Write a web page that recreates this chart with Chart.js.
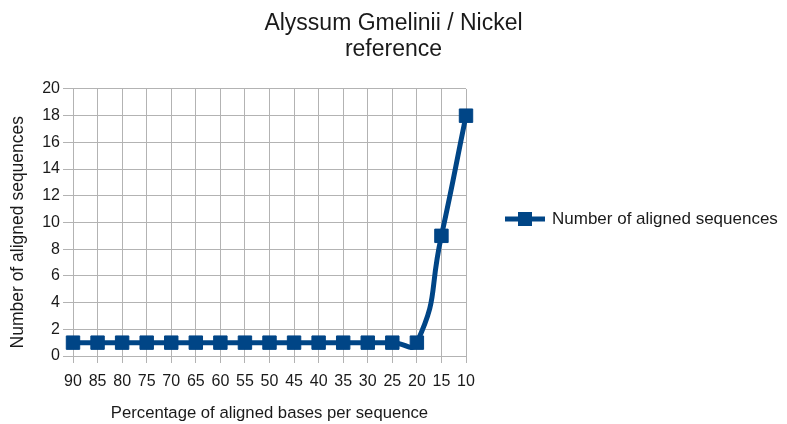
<!DOCTYPE html>
<html>
<head>
<meta charset="utf-8">
<title>Alyssum Gmelinii / Nickel reference</title>
<script src="https://cdn.jsdelivr.net/npm/chart.js@4/dist/chart.umd.min.js"></script>
<style>
  html, body { margin: 0; padding: 0; background: #ffffff; }
  #wrap { width: 787px; height: 424px; }
</style>
</head>
<body>
<div id="wrap"><canvas id="chart" width="787" height="424"></canvas></div>
<script>
// Percentage of aligned bases per sequence (x categories)
const categories = ['90', '85', '80', '75', '70', '65', '60', '55', '50', '45', '40', '35', '30', '25', '20', '15', '10'];
// Number of aligned sequences at each threshold
const alignedSequences = [1, 1, 1, 1, 1, 1, 1, 1, 1, 1, 1, 1, 1, 1, 1, 9, 18];
// Y axis ticks
const yMin = 0;
const yMax = 20;
const yStep = 2;

const SERIES_COLOR = '#004586';
const GRID_COLOR = '#b3b3b3';
const TEXT_COLOR = '#1a1a1a';
const FONT = '"Liberation Sans", Arial, sans-serif';

// Legend symbol: line segment with a square marker in the middle
const legendSymbol = document.createElement('canvas');
legendSymbol.width = 40;
legendSymbol.height = 16;
(function () {
  const c = legendSymbol.getContext('2d');
  c.fillStyle = SERIES_COLOR;
  c.fillRect(0, 5.5, 40, 5);
  c.fillRect(13, 1, 14, 14);
})();

new Chart(document.getElementById('chart'), {
  type: 'line',
  data: {
    labels: categories,
    datasets: [{
      label: 'Number of aligned sequences',
      data: alignedSequences,
      borderColor: SERIES_COLOR,
      backgroundColor: SERIES_COLOR,
      borderWidth: 5,
      tension: 0.55,
      pointStyle: 'rect',
      pointRadius: 9.5,
      pointBorderWidth: 1,
      pointBackgroundColor: SERIES_COLOR,
      pointBorderColor: SERIES_COLOR,
      fill: false
    }]
  },
  options: {
    responsive: false,
    animation: false,
    layout: { padding: 0 },
    plugins: {
      title: {
        display: true,
        text: ['Alyssum Gmelinii / Nickel', 'reference'],
        color: TEXT_COLOR,
        font: { family: FONT, size: 23, weight: 'normal', lineHeight: 1.13 },
        padding: { top: 11, bottom: 26 }
      },
      legend: {
        position: 'right',
        align: 'center',
        maxWidth: 321,
        title: {
          display: true,
          text: ' ',
          font: { family: FONT, size: 10, lineHeight: 1.2 },
          padding: 1
        },
        labels: {
          usePointStyle: true,
          pointStyle: legendSymbol,
          pointStyleWidth: 37,
          boxHeight: 16,
          padding: 40.5,
          color: TEXT_COLOR,
          font: { family: FONT, size: 17 }
        }
      },
      tooltip: { enabled: false }
    },
    scales: {
      x: {
        offset: false,
        grid: {
          color: GRID_COLOR,
          lineWidth: 1,
          drawTicks: true,
          tickLength: 7,
          tickColor: GRID_COLOR
        },
        border: { color: GRID_COLOR, width: 1 },
        ticks: {
          color: TEXT_COLOR,
          font: { family: FONT, size: 16 },
          padding: 9,
          maxRotation: 0,
          autoSkip: false
        },
        title: {
          display: true,
          text: 'Percentage of aligned bases per sequence',
          color: TEXT_COLOR,
          font: { family: FONT, size: 16.7 },
          padding: { top: 4, bottom: 1 }
        },
        afterFit: (scale) => { scale.height = 68; }
      },
      y: {
        min: yMin,
        max: yMax,
        grid: {
          color: GRID_COLOR,
          lineWidth: 1,
          drawTicks: true,
          tickLength: 10,
          tickColor: GRID_COLOR
        },
        border: { color: GRID_COLOR, width: 1 },
        ticks: {
          stepSize: yStep,
          color: TEXT_COLOR,
          font: { family: FONT, size: 16 },
          padding: 3
        },
        title: {
          display: true,
          // trailing spaces nudge the rotated title toward the bottom
          text: 'Number of aligned sequences    ',
          color: TEXT_COLOR,
          font: { family: FONT, size: 17.5 },
          padding: { top: 8, bottom: 4 }
        },
        afterFit: (scale) => { scale.width = 73; }
      }
    }
  }
});
</script>
</body>
</html>
